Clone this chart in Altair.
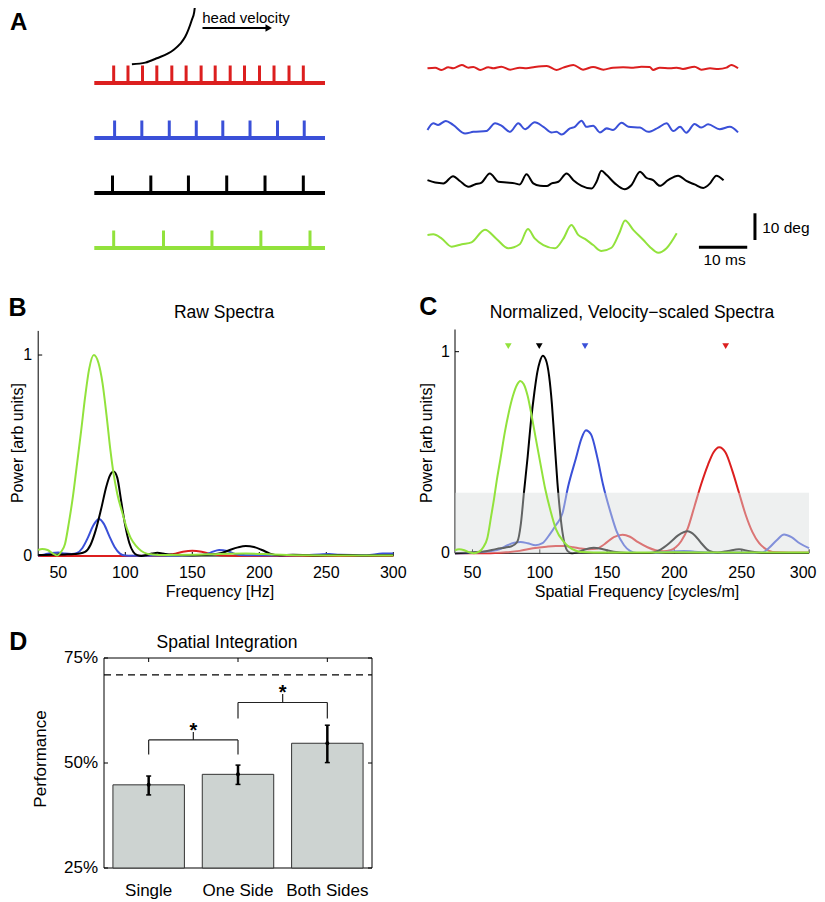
import altair as alt
import pandas as pd

W, H = 809, 894
FONT = "Liberation Sans"
RED, BLUE, BLACK, GREEN = "#dc1f1f", "#3a50d8", "#000000", "#92e23c"
BAR_FILL, BAND_FILL = "#cdd3d1", "#d9dede"

# ---------------- Panel A : combs ----------------
COMB_ROWS = [0, 1, 2, 3]
COMB_COLORS = [RED, BLUE, BLACK, GREEN]
TEETH_RED = [8.4, 14.6, 20.9, 27.1, 33.6, 39.8, 46.3, 52.4, 58.9, 65.1, 71.6, 77.9, 84.4, 90.6]
TEETH_BLUE = [8.8, 20.6, 32.5, 44.2, 55.7, 67.5, 79.4, 91.0]
TEETH_BLACK = [7.9, 24.5, 40.8, 57.4, 74.0, 90.6]
TEETH_GREEN = [8.4, 30.0, 51.0, 72.2, 93.5]
TRACK = [0, 100]
HV_X = [16.3, 22.1, 27.1, 34.3, 37.2, 39.4, 42.3, 43.3, 43.7]
HV_Y = [-0.34, -0.37, -0.45, -0.6, -0.71, -0.84, -1.15, -1.29, -1.42]

# ---------------- Panel A : traces (ms, deg) ----------------
RED_T = [0.1, 1.7, 3.0, 4.4, 5.4, 7.2, 8.6, 9.6, 11.0, 12.7, 13.7, 15.4, 17.2, 19.2, 20.6, 22.3, 24.8, 26.8, 28.2, 30.3,
         32.3, 34.4, 36.5, 38.5, 40.6, 42.7, 44.4, 46.1, 46.8, 48.2, 50.3, 51.7, 53.0, 55.4, 56.8, 58.6, 60.3, 62.0, 63.0, 64.4]
RED_DEG = [0, 0.25, -0.6, 0.4, 0, 1.25, 0.25, 0.5, -0.6, 0.4, 0, 0.6, -0.5, 0.25, 0, 0.5, 0.9, -0.6, 0.25, 1.25,
           -0.5, 0.5, -0.5, 0.25, 0.4, 0.25, 0.6, 0.5, -0.6, 0.25, 0, 0.25, -0.25, 0.6, -0.5, 0, -0.25, 0.25, 1.25, 0]
BLUE_T = [0.1, 1.3, 2.3, 3.9, 5.4, 7.9, 9.6, 12.3, 14.1, 15.4, 17.2, 18.9, 20.3, 22.3, 24.1, 25.8, 26.8, 27.9, 29.6, 30.6,
          32.0, 33.0, 34.4, 35.8, 37.2, 38.5, 40.3, 41.7, 44.1, 45.8, 47.9, 49.6, 51.0, 52.4, 53.7, 55.4, 56.8, 58.2, 60.6, 62.7, 64.4]
BLUE_DEG = [-0.6, 1.9, 1.3, 2.8, 1.3, -1.9, -1.3, -1.0, 1.9, 1.0, -1.3, 1.9, -0.3, 2.3, 0.6, -1.5, -1.3, -2.3, 0, 0.6,
            2.9, 0.6, 1.0, -1.5, 0, -0.6, 2.1, 0.6, 0.3, -1.3, 0.3, 1.9, -1.0, 0.6, -1.6, 1.6, 0.3, 1.5, -0.3, 0.6, -1.5]
BLACK_T = [0.1, 1.7, 3.4, 5.4, 6.8, 8.6, 9.9, 11.3, 13.0, 14.8, 16.5, 18.2, 19.2, 20.6, 22.0, 23.4, 24.8, 25.8, 27.2, 28.9,
           30.3, 32.0, 34.1, 35.1, 36.1, 37.2, 38.9, 40.9, 42.3, 44.1, 45.4, 46.8, 48.2, 49.9, 52.0, 53.7, 55.4, 57.2, 58.6, 59.9, 61.4]
BLACK_DEG = [0.6, -0.3, -0.6, 2.1, 0.3, -1.9, -1.0, -0.3, 3.1, 0, -0.3, -0.6, -1.0, 2.8, -0.6, -1.5, -1.6, -0.6, 0, 3.1,
             0.6, -1.5, -2.5, 0, 4.1, 2.5, -0.6, -2.8, -1.3, 3.8, 1.5, 0.6, -1.5, 0.6, 2.3, 0.3, -1.0, -2.3, -0.6, 2.3, 0.6]
GREEN_T = [0.1, 1.3, 3.0, 5.1, 7.2, 9.2, 12.0, 14.4, 16.8, 19.2, 20.9, 22.3, 24.1, 26.5, 28.2, 29.9, 31.3, 32.7, 34.4, 36.1,
           38.2, 39.8, 41.0, 42.7, 44.8, 46.1, 47.9, 49.6, 51.7]
GREEN_DEG = [1.9, 2.1, 0.6, -2.5, -1.6, -0.9, 3.8, 0.4, -3.1, -1.6, 4.1, 0.6, -1.9, -3.1, 0.4, 5.6, 1.9, 0.4, -1.9, -4.1,
             -2.9, 2.5, 7.3, 3.8, 0, -2.5, -4.8, -3.1, 2.5]
TRACE_BASE = {"red": 0.0, "blue": -22.5, "black": -42.5, "green": -64.3}

# ---------------- Panel B : raw spectra ----------------
B_XTICKS = [50, 100, 150, 200, 250, 300]
B_XLABELS = ["50", "100", "150", "200", "250", "300"]
B_YTICKS = [0, 1]
B_YLABELS = ["0", "1"]
B_F_RED = [35, 60, 100, 128, 136, 143, 150, 157, 164, 172, 185, 300]
B_P_RED = [0.0, 0.0, 0.0, 0.002, 0.01, 0.021, 0.026, 0.021, 0.01, 0.002, 0.0, 0.0]
B_F_BLUE = [35, 40, 45, 50, 55, 60, 64, 68, 72, 76, 80.2, 84, 88, 92, 96, 100, 105, 120, 140, 158, 164, 170, 176, 182,
            190, 210, 230, 245, 252, 260, 280, 292, 300]
B_P_BLUE = [0.003, 0.008, 0.015, 0.017, 0.012, 0.01, 0.015, 0.04, 0.09, 0.15, 0.184, 0.16, 0.10, 0.045, 0.012, 0.002,
            0.001, 0.002, 0.003, 0.006, 0.018, 0.03, 0.025, 0.01, 0.004, 0.003, 0.004, 0.008, 0.01, 0.006, 0.004, 0.012, 0.012]
B_F_BLACK = [35, 45, 55, 62, 66, 70, 74, 78, 82, 86, 88.5, 91.3, 94, 97, 100, 103, 106, 109, 112, 116, 120, 124, 128, 135,
             150, 165, 172, 178, 184, 190, 196, 202, 208, 215, 225, 240, 260, 280, 300]
B_P_BLACK = [0.005, 0.006, 0.008, 0.01, 0.012, 0.02, 0.055, 0.13, 0.235, 0.35, 0.40, 0.42, 0.39, 0.27, 0.15, 0.065, 0.02,
             0.004, 0.0, 0.005, 0.012, 0.016, 0.012, 0.006, 0.004, 0.008, 0.015, 0.03, 0.043, 0.05, 0.045, 0.03, 0.012,
             0.004, 0.006, 0.003, 0.005, 0.003, 0.004]
B_F_GREEN = [35, 38, 42, 46, 49, 52, 55, 58, 61, 64, 67, 70, 73, 76.5, 80, 83, 86, 89, 91, 94, 98, 101, 104, 108, 112,
             116, 120, 130, 150, 170, 190, 210, 230, 260, 300]
B_P_GREEN = [0.03, 0.035, 0.03, 0.012, 0.002, 0.02, 0.06, 0.17, 0.30, 0.46, 0.62, 0.79, 0.93, 1.0, 0.96, 0.86, 0.70,
             0.52, 0.42, 0.31, 0.21, 0.14, 0.09, 0.05, 0.025, 0.012, 0.008, 0.005, 0.006, 0.01, 0.012, 0.008, 0.004,
             0.003, 0.003]

# ---------------- Panel C : normalized spectra ----------------
C_XTICKS = [50, 100, 150, 200, 250, 300]
C_XLABELS = ["50", "100", "150", "200", "250", "300"]
C_YTICKS = [0, 1]
C_YLABELS = ["0", "1"]
C_F_RED = [37, 60, 75, 85, 95, 105, 112, 118, 125, 130, 136, 142, 148, 155, 161.5, 167, 173, 180, 186, 192, 197, 201,
           205, 210, 215, 220, 225, 229, 233.3, 238, 243, 248, 253, 258, 263, 268, 273, 285, 300]
C_P_RED = [0.0, 0.0, 0.005, 0.012, 0.025, 0.033, 0.036, 0.036, 0.03, 0.024, 0.02, 0.022, 0.045, 0.08, 0.092, 0.082,
           0.055, 0.03, 0.015, 0.01, 0.015, 0.03, 0.06, 0.125, 0.235, 0.345, 0.44, 0.50, 0.526, 0.50, 0.41, 0.30, 0.19,
           0.105, 0.05, 0.021, 0.006, 0.004, 0.004]
C_F_BLUE = [37, 50, 62, 70, 76, 81, 85.7, 91, 96.8, 102, 107, 112, 116.9, 121, 126.8, 131, 134.3, 138, 142.9, 147, 152.7,
            157, 162.6, 167, 172, 185, 200, 207, 215, 230, 250, 260, 265.6, 270, 276, 281.5, 287, 293, 300]
C_P_BLUE = [0.0, 0.003, 0.01, 0.02, 0.04, 0.052, 0.056, 0.05, 0.04, 0.05, 0.09, 0.14, 0.2, 0.33, 0.47, 0.57, 0.61, 0.59,
            0.47, 0.34, 0.2, 0.11, 0.04, 0.012, 0.002, 0.003, 0.01, 0.012, 0.008, 0.003, 0.004, 0.003, 0.005, 0.025,
            0.065, 0.093, 0.08, 0.05, 0.026]
C_F_BLACK = [37, 50, 60, 68, 74, 79, 83.2, 86, 88.2, 91, 93.2, 96, 98.2, 100, 102.2, 104.5, 106.9, 109, 110.6, 113.1,
             116.8, 120.5, 124, 128, 133, 140, 147, 155, 165, 175, 182, 190, 197, 203, 209.7, 215, 220, 226, 232, 240,
             248, 256, 265, 300]
C_P_BLACK = [0.0, 0.005, 0.01, 0.022, 0.028, 0.035, 0.056, 0.15, 0.30, 0.48, 0.64, 0.80, 0.90, 0.95, 0.98, 0.96, 0.88,
             0.74, 0.59, 0.35, 0.106, 0.012, 0.0, 0.005, 0.018, 0.027, 0.02, 0.008, 0.002, 0.001, 0.002, 0.02, 0.055,
             0.09, 0.109, 0.09, 0.05, 0.012, 0.004, 0.012, 0.02, 0.01, 0.002, 0.002]
C_F_GREEN = [37, 40, 44, 48, 51, 55, 58, 61, 64, 66, 68, 70.8, 74, 77, 80, 83, 85.5, 88, 91, 94, 97, 100.6, 104, 108,
             112, 118, 122, 126, 131, 140, 170, 200, 250, 300]
C_P_GREEN = [0.015, 0.02, 0.015, 0.004, 0.0, 0.008, 0.03, 0.075, 0.19, 0.27, 0.36, 0.47, 0.60, 0.70, 0.78, 0.835, 0.855,
             0.84, 0.78, 0.68, 0.57, 0.44, 0.32, 0.21, 0.12, 0.056, 0.03, 0.015, 0.006, 0.004, 0.004, 0.005, 0.004, 0.004]
C_BAND_TOP = 0.3
MARK_F = [76.6, 99.6, 133.6, 238.1]
MARK_COLORS = [GREEN, BLACK, BLUE, RED]

# ---------------- Panel D : performance ----------------
CATS = ["Single", "One Side", "Both Sides"]
PERF = [44.8, 47.3, 54.7]
ERR_LO = [42.4, 44.9, 50.1]
ERR_HI = [46.9, 49.5, 59.0]
THRESH = 71.0
D_YTICKS = [25, 50, 75]
D_YLABELS = ["25%", "50%", "75%"]
BR_A = [0, 1]
BR_B = [1, 2]
BR_H = [55.5, 64.4]
BR_LEG = [52.0, 60.6]
BR_TOP = [57.4, 66.4]
STAR_Y = [56.2, 65.2]

# ---------------- scales (each panel placed by its range) ----------------
xA = alt.Scale(domain=[0, 100], range=[86.3, 317])
yA = alt.Scale(domain=[-1.5, 3.5], range=[-7.5, 267.5])
xT = alt.Scale(domain=[0, 70], range=[419, 757.1])
yT = alt.Scale(domain=[-75, 10], range=[260.55, 33.6])
xB = alt.Scale(domain=[35, 300], range=[30.2, 385.3], nice=False, zero=False)
yB = alt.Scale(domain=[0, 1.12], range=[548, 322.9], nice=False, zero=False)
xC = alt.Scale(domain=[37, 300], range=[447, 801], nice=False, zero=False)
yC = alt.Scale(domain=[0, 1.11], range=[545.3, 321.5], nice=False, zero=False)
xD = alt.Scale(domain=CATS, range=[96, 364], paddingInner=0.2, paddingOuter=0.1)
xD2 = alt.Scale(domain=[-0.5, 2.5], range=[96, 364], nice=False, zero=False)
yD = alt.Scale(domain=[25, 75], range=[860, 650], nice=False, zero=False)


def qx(field, scale):
    return alt.X(f"{field}:Q", scale=scale, axis=None)


def qy(field, scale):
    return alt.Y(f"{field}:Q", scale=scale, axis=None)


NOCOL = alt.Color("c:N", scale=None, legend=None)


def text_layer(xs, ys, x, y, s, **style):
    df = pd.DataFrame({"x": x, "y": y, "s": s})
    style.setdefault("font", FONT)
    style.setdefault("color", "black")
    return alt.Chart(df).mark_text(**style).encode(x=qx("x", xs), y=qy("y", ys), text="s:N")


# ---------- A left ----------
base_df = pd.DataFrame({"row": COMB_ROWS, "x0": [TRACK[0]] * 4, "x1": [TRACK[1]] * 4, "c": COMB_COLORS})
teeth_rows = []
for r, (teeth, c) in enumerate(zip([TEETH_RED, TEETH_BLUE, TEETH_BLACK, TEETH_GREEN], COMB_COLORS)):
    for t in teeth:
        teeth_rows.append({"x": t, "row": r, "c": c})
teeth_df = pd.DataFrame(teeth_rows)

a_base = alt.Chart(base_df).mark_rule(strokeWidth=4).encode(
    x=qx("x0", xA), x2="x1:Q", y=qy("row", yA), color=NOCOL)
a_teeth = alt.Chart(teeth_df).mark_rule(strokeWidth=3, y2Offset=-17.5).encode(
    x=qx("x", xA), y=qy("row", yA), y2="row:Q", color=NOCOL)
a_curve = alt.Chart(pd.DataFrame({"x": HV_X, "y": HV_Y})).mark_line(
    color="black", strokeWidth=2, interpolate="monotone").encode(x=qx("x", xA), y=qy("y", yA))
a_label = text_layer(xA, yA, [46.8], [-1.1], ["head velocity"], align="left", baseline="alphabetic", fontSize=15)
a_arrow = alt.Chart(pd.DataFrame({"x": [46.9], "x2": [74.5], "y": [-1.0]})).mark_rule(
    strokeWidth=1.8, color="black").encode(x=qx("x", xA), x2="x2:Q", y=qy("y", yA))
a_head = alt.Chart(pd.DataFrame({"x": [75.6], "y": [-1.0]})).mark_point(
    shape="triangle-right", filled=True, size=55, color="black", opacity=1).encode(x=qx("x", xA), y=qy("y", yA))
a_letter = text_layer(xA, yA, [-32.8], [-0.964], ["A"], align="center", baseline="alphabetic", fontSize=24,
                      fontWeight="bold")
A_left = alt.layer(a_base, a_teeth, a_curve, a_label, a_arrow, a_head, a_letter)

# ---------- A right ----------
trace_rows = []
for name, ts, ds, c in [("red", RED_T, RED_DEG, RED), ("blue", BLUE_T, BLUE_DEG, BLUE),
                        ("black", BLACK_T, BLACK_DEG, BLACK), ("green", GREEN_T, GREEN_DEG, GREEN)]:
    for t, d in zip(ts, ds):
        trace_rows.append({"t": t, "y": d + TRACE_BASE[name], "trace": name, "c": c})
trace_df = pd.DataFrame(trace_rows)
t_lines = alt.Chart(trace_df).mark_line(strokeWidth=2, interpolate="monotone").encode(
    x=qx("t", xT), y=qy("y", yT), detail="trace:N", color=NOCOL)
bars_df = pd.DataFrame({"x": [67.9, 56.3], "x2": [67.9, 66.3], "y": [-64.3, -67.0], "y2": [-54.3, -67.0]})
t_bars = alt.Chart(bars_df).mark_rule(strokeWidth=3, color="black").encode(
    x=qx("x", xT), x2="x2:Q", y=qy("y", yT), y2="y2:Q")
t_txt1 = text_layer(xT, yT, [69.4], [-59.8], ["10 deg"], align="left", baseline="middle", fontSize=15.5)
t_txt2 = text_layer(xT, yT, [61.6], [-71.8], ["10 ms"], align="center", baseline="middle", fontSize=15.5)
A_right = alt.layer(t_lines, t_bars, t_txt1, t_txt2)


# ---------- spectra panels ----------
def spectra_panel(series, xs, ys, xmin, xmax, ymax, xticks, xlabels, yticks, ylabels, xpad, ypad,
                  xtitle, xtitle_xy, ytitle_xy, title, title_xy, letters, band=None, markers=None,
                  last_label_right=False):
    layers = []
    dom = pd.DataFrame({"x0": [xmin, xmin], "x1": [xmin, xmax], "y0": [0, 0], "y1": [ymax, 0]})
    layers.append(alt.Chart(dom).mark_rule(color="black", strokeWidth=1).encode(
        x=qx("x0", xs), x2="x1:Q", y=qy("y0", ys), y2="y1:Q"))
    xt = alt.Chart(pd.DataFrame({"t": xticks, "z": [0] * len(xticks)})).mark_rule(
        color="black", strokeWidth=1, y2Offset=-4).encode(x=qx("t", xs), y=qy("z", ys), y2="z:Q")
    yt = alt.Chart(pd.DataFrame({"v": yticks, "x": [xmin] * len(yticks)})).mark_rule(
        color="black", strokeWidth=1, x2Offset=4).encode(x=qx("x", xs), x2="x:Q", y=qy("v", ys))
    layers += [xt, yt]
    if last_label_right:
        layers.append(text_layer(xs, ys, xticks[:-1], [0] * (len(xticks) - 1), xlabels[:-1], align="center",
                                 baseline="top", dy=xpad, fontSize=16))
        # last label kept inside the page edge
        layers.append(text_layer(xs, ys, xticks[-1:], [0], xlabels[-1:], align="right",
                                 baseline="top", dy=xpad, dx=7.5, fontSize=16))
    else:
        layers.append(text_layer(xs, ys, xticks, [0] * len(xticks), xlabels, align="center", baseline="top",
                                 dy=xpad, fontSize=16))
    layers.append(text_layer(xs, ys, [xmin] * len(yticks), yticks, ylabels, align="right", baseline="middle",
                             dx=-ypad, fontSize=16))
    layers.append(text_layer(xs, ys, [xtitle_xy[0]], [xtitle_xy[1]], [xtitle], align="center",
                             baseline="alphabetic", fontSize=16))
    layers.append(text_layer(xs, ys, [ytitle_xy[0]], [ytitle_xy[1]], ["Power [arb units]"], align="center",
                             baseline="alphabetic", angle=270, fontSize=16))
    for f, p, c, on_top in series:
        if on_top and band is not None:
            layers.append(band)
            band = None
        df = pd.DataFrame({"f": f, "p": p})
        layers.append(alt.Chart(df).mark_line(color=c, strokeWidth=2, interpolate="monotone").encode(
            x=qx("f", xs), y=qy("p", ys)))
    if band is not None:
        layers.append(band)
    if markers is not None:
        layers.append(markers)
    layers.append(text_layer(xs, ys, [title_xy[0]], [title_xy[1]], [title], align="center",
                             baseline="alphabetic", fontSize=17.5))
    layers.append(text_layer(xs, ys, [p[0] for p in letters], [p[1] for p in letters], [p[2] for p in letters],
                             align="center", baseline="alphabetic", fontSize=25, fontWeight="bold"))
    return alt.layer(*layers)


B = spectra_panel(
    [(B_F_RED, B_P_RED, RED, False), (B_F_BLUE, B_P_BLUE, BLUE, False),
     (B_F_BLACK, B_P_BLACK, BLACK, False), (B_F_GREEN, B_P_GREEN, GREEN, False)],
    xB, yB, 35, 300, 1.12, B_XTICKS, B_XLABELS, B_YTICKS, B_YLABELS, 9, 6,
    "Frequency [Hz]", (170.7, -0.206), (23.7, 0.562), "Raw Spectra", (173.7, 1.183),
    [(19.6, 1.195, "B"), (20.1, -0.466, "D")])

band_layer = alt.Chart(pd.DataFrame({"x0": [37], "x1": [300], "y0": [0], "y1": [C_BAND_TOP]})).mark_rect(
    fill=BAND_FILL, opacity=0.45).encode(x=qx("x0", xC), x2="x1:Q", y=qy("y0", yC), y2="y1:Q")
markers_layer = alt.Chart(pd.DataFrame({"f": MARK_F, "y": [1.028] * 4, "c": MARK_COLORS})).mark_point(
    shape="triangle-down", filled=True, size=45, opacity=1).encode(x=qx("f", xC), y=qy("y", yC), color=NOCOL)
C = spectra_panel(
    [(C_F_RED, C_P_RED, RED, False), (C_F_BLUE, C_P_BLUE, BLUE, False),
     (C_F_BLACK, C_P_BLACK, BLACK, False), (C_F_GREEN, C_P_GREEN, GREEN, True)],
    xC, yC, 37, 300, 1.11, C_XTICKS, C_XLABELS, C_YTICKS, C_YLABELS, 11.7, 5,
    "Spatial Frequency [cycles/m]", (172.2, -0.219), (19.9, 0.547),
    "Normalized, Velocity\u2212scaled Spectra", (168.5, 1.169),
    [(17.2, 1.182, "C")], band=band_layer, markers=markers_layer, last_label_right=True)

# ---------- D : frame, axes text, threshold, brackets ----------
frame = alt.Chart(pd.DataFrame({"x0": [-0.5], "x1": [2.5], "y0": [25], "y1": [75]})).mark_rect(
    fillOpacity=0, stroke="black", strokeWidth=1).encode(x=qx("x0", xD2), x2="x1:Q", y=qy("y0", yD), y2="y1:Q")
d_thr = alt.Chart(pd.DataFrame({"x0": [-0.5], "x1": [2.5], "y": [THRESH]})).mark_rule(
    strokeDash=[7, 5], strokeWidth=1.2, color="black").encode(x=qx("x0", xD2), x2="x1:Q", y=qy("y", yD))
br_df = pd.DataFrame({"a": BR_A, "b": BR_B, "h": BR_H, "leg": BR_LEG, "top": BR_TOP, "star": STAR_Y})
br_df["mid"] = (br_df["a"] + br_df["b"]) / 2
legs_df = pd.concat([br_df[["a", "h", "leg"]].rename(columns={"a": "x"}),
                     br_df[["b", "h", "leg"]].rename(columns={"b": "x"})])
d_br_h = alt.Chart(br_df).mark_rule(strokeWidth=1.2, color="#222222").encode(
    x=qx("a", xD2), x2="b:Q", y=qy("h", yD))
d_br_legs = alt.Chart(legs_df).mark_rule(strokeWidth=1.2, color="#222222").encode(
    x=qx("x", xD2), y=qy("h", yD), y2="leg:Q")
d_br_top = alt.Chart(br_df).mark_rule(strokeWidth=1.2, color="#222222").encode(
    x=qx("mid", xD2), y=qy("h", yD), y2="top:Q")
d_star = alt.Chart(br_df.assign(s="*")).mark_text(
    fontSize=20, fontWeight="bold", font=FONT, align="center", baseline="alphabetic", color="black").encode(
    x=qx("mid", xD2), y=qy("star", yD), text="s:N")
side_df = pd.DataFrame({"v": D_YTICKS, "l": [-0.5] * 3, "r": [2.5] * 3})
d_tick_l = alt.Chart(side_df).mark_rule(color="black", strokeWidth=1, x2Offset=4).encode(
    x=qx("l", xD2), x2="l:Q", y=qy("v", yD))
d_tick_r = alt.Chart(side_df).mark_rule(color="black", strokeWidth=1, x2Offset=-4).encode(
    x=qx("r", xD2), x2="r:Q", y=qy("v", yD))
top_df = pd.DataFrame({"x": [0, 1, 2], "y": [75] * 3})
d_tick_t = alt.Chart(top_df).mark_rule(color="black", strokeWidth=1, y2Offset=4).encode(
    x=qx("x", xD2), y=qy("y", yD), y2="y:Q")
d_ylab = text_layer(xD2, yD, [-0.5] * 3, D_YTICKS, D_YLABELS, align="right", baseline="middle", dx=-6, fontSize=17)
d_ytitle = text_layer(xD2, yD, [-1.149], [50.95], ["Performance"], align="center", baseline="alphabetic",
                      angle=270, fontSize=17)
d_title = text_layer(xD2, yD, [0.877], [77.5], ["Spatial Integration"], align="center", baseline="alphabetic",
                     fontSize=17.5)
D2 = alt.layer(frame, d_thr, d_br_h, d_br_legs, d_br_top, d_star, d_tick_l, d_tick_r, d_tick_t,
               d_ylab, d_ytitle, d_title)

# ---------- D : bars ----------
d_df = pd.DataFrame({"cat": CATS, "perf": PERF, "lo": ERR_LO, "hi": ERR_HI, "floor": [25] * 3})
xcat = alt.X("cat:N", scale=xD, axis=None)
d_bars = alt.Chart(d_df).mark_bar(fill=BAR_FILL, stroke="#333333", strokeWidth=1).encode(
    x=xcat, y=alt.Y("perf:Q", scale=yD, axis=None), y2=alt.Y2Datum(25))
d_err = alt.Chart(d_df).mark_rule(strokeWidth=2.5, color="black").encode(
    x=xcat, y=alt.Y("lo:Q", scale=yD, axis=None), y2="hi:Q")
d_cap_lo = alt.Chart(d_df).mark_tick(color="black", thickness=1.5, size=5, opacity=1).encode(
    x=xcat, y=alt.Y("lo:Q", scale=yD, axis=None))
d_cap_hi = alt.Chart(d_df).mark_tick(color="black", thickness=1.5, size=5, opacity=1).encode(
    x=xcat, y=alt.Y("hi:Q", scale=yD, axis=None))
d_dot = alt.Chart(d_df).mark_point(filled=True, size=16, color="black", opacity=1).encode(
    x=xcat, y=alt.Y("perf:Q", scale=yD, axis=None))
d_xlab = alt.Chart(d_df).mark_text(font=FONT, fontSize=17, baseline="top", dy=14.5, color="black").encode(
    x=xcat, y=alt.Y("floor:Q", scale=yD, axis=None), text="cat:N")
D1 = alt.layer(d_bars, d_err, d_cap_lo, d_cap_hi, d_dot, d_xlab)

chart = alt.layer(A_left, A_right, B, C, D2, D1).resolve_scale(
    x="independent", y="independent"
).properties(
    width=W, height=H, padding=0, autosize=alt.AutoSizeParams(type="none")
).configure_view(stroke=None)

chart.save("out.html", embed_options={"renderer": "svg", "actions": False})
